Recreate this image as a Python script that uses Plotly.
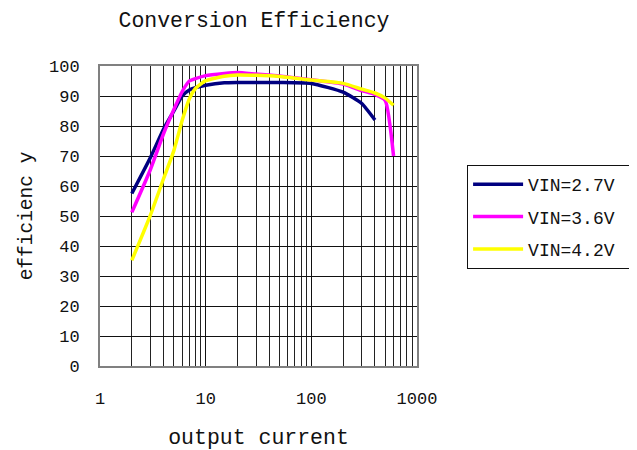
import plotly.graph_objects as go

# ---- data ----
current = [2, 3, 4, 5, 6, 7, 8, 10, 15, 20, 30, 50, 100, 200, 300, 400, 500, 600]
current_27 = [2, 3, 4, 5, 6, 7, 8, 10, 15, 20, 30, 50, 100, 200, 300, 400]
eff_27 = [57.5, 69.5, 79.0, 85.0, 90.0, 92.0, 92.8, 93.6, 94.4, 94.5, 94.5, 94.5, 94.2, 91.3, 87.5, 82.0]
eff_36 = [51.2, 65.5, 77.5, 85.5, 91.5, 95.0, 95.8, 96.8, 97.5, 97.8, 97.3, 96.7, 95.4, 94.0, 91.8, 90.5, 88.5, 70.0]
eff_42 = [35.2, 50.3, 62.5, 71.8, 81.9, 89.0, 92.5, 95.1, 96.6, 97.0, 96.9, 96.5, 95.3, 94.2, 92.3, 91.0, 89.3, 86.9]

names = ["VIN=2.7V", "VIN=3.6V", "VIN=4.2V"]
colors = ["#000080", "#FF00FF", "#FFFF00"]

x_major = [1, 10, 100, 1000]
x_major_text = ["1", "10", "100", "1000"]
x_minor = [m * d for d in (1, 10, 100) for m in range(2, 10)]
y_ticks = list(range(0, 101, 10))

FONT = "Liberation Mono"
# the page body has an 8px margin, so the figure is sized to fit the window
W, H = 629, 442

fig = go.Figure()
for xs, ys, nm, c, g in [(current_27, eff_27, names[0], colors[0], "a"),
                         (current, eff_36, names[1], colors[1], "b"),
                         (current, eff_42, names[2], colors[2], "c")]:
    fig.add_trace(go.Scatter(x=xs, y=ys, name=nm + "\u00a0", mode="lines", legendgroup=g,
                             line=dict(color=c, width=3.5, shape="spline", smoothing=0.5)))

fig.update_layout(
    width=W, height=H,
    margin=dict(l=92, r=220, t=58, b=84, autoexpand=False),
    paper_bgcolor="white", plot_bgcolor="white",
    font=dict(family=FONT, color="#111", size=17),
    title=dict(text="Conversion Efficiency", x=246 / W, xref="container", xanchor="center",
               y=1 - 11 / H, yref="container", yanchor="middle",
               font=dict(family=FONT, size=21.5, color="#111")),
    showlegend=True,
    legend=dict(x=1.158, xanchor="left", y=0.67, yanchor="top",
                bordercolor="#111", borderwidth=1, bgcolor="white",
                itemwidth=50,
                font=dict(family=FONT, size=18, color="#111"),
                traceorder="grouped", tracegroupgap=6),
)

fig.update_xaxes(
    type="log", range=[0, 3],
    tickvals=x_major, ticktext=x_major_text,
    showgrid=True, gridcolor="#111", gridwidth=1,
    minor=dict(tickvals=x_minor, showgrid=True, gridcolor="#222", gridwidth=1, ticks=""),
    showline=True, linecolor="#808080", linewidth=2, mirror=True,
    ticks="", ticklabelstandoff=16, automargin=False,
    tickfont=dict(family=FONT, size=17, color="#111"),
    title=dict(text="output current", standoff=21, font=dict(family=FONT, size=21.5, color="#111")),
    zeroline=False,
)
fig.update_yaxes(
    range=[0, 100], tickvals=y_ticks,
    showgrid=True, gridcolor="#111", gridwidth=1,
    showline=True, linecolor="#808080", linewidth=2, mirror=True,
    ticks="", ticklabelstandoff=15, automargin=False,
    tickfont=dict(family=FONT, size=17, color="#111"),
    title=dict(text="efficienc y", standoff=11, font=dict(family=FONT, size=19.5, color="#111")),
    zeroline=False,
)

fig.write_html("out.html")
